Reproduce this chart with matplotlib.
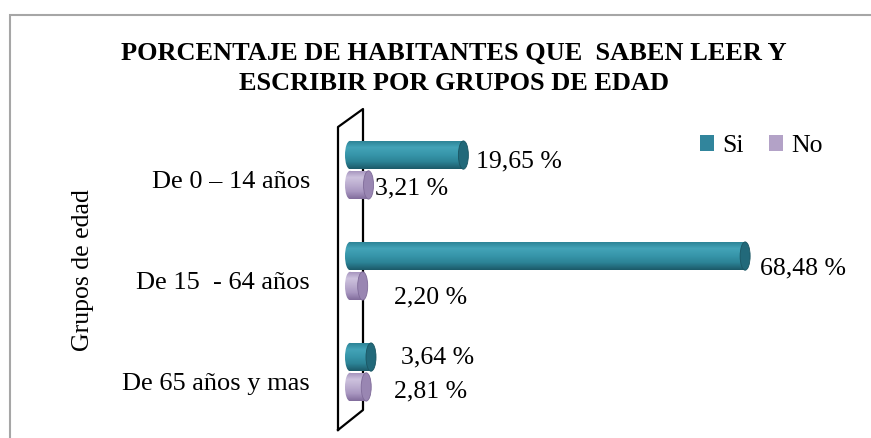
import numpy as np
import matplotlib.pyplot as plt
from matplotlib.colors import LinearSegmentedColormap
from matplotlib.patches import Rectangle, Ellipse, Patch

plt.rcParams["font.family"] = ["Liberation Serif", "DejaVu Serif"]

grupos = ["De 0 – 14 años", "De 15  - 64 años", "De 65 años y mas"]
si = [19.65, 68.48, 3.64]
no = [3.21, 2.20, 2.81]
etiquetas_si = ["19,65 %", "68,48 %", "3,64 %"]
etiquetas_no = ["3,21 %", "2,20 %", "2,81 %"]

W, H = 871, 438
fig = plt.figure(figsize=(W / 100, H / 100), dpi=100)

# axes placed in pixel terms: 0 % sits at x=350 px, 5.77 px per percent
px_per = 5.77
ax_left, ax_right = 320, 865
ax_top, ax_bot = 100, 438
ax = fig.add_axes([ax_left / W, 1 - ax_bot / H, (ax_right - ax_left) / W, (ax_bot - ax_top) / H])
ax.set_xlim((ax_left - 350) / px_per, (ax_right - 350) / px_per)
# one unit per group, 101 px apart, first group centred at y=170 px
ax.set_ylim((ax_bot - 170) / 101, (ax_top - 170) / 101)
ax.axis("off")

cap_w = 10 / px_per
bar_h = 0.28
off = 0.148

cmap_si = LinearSegmentedColormap.from_list(
    "si", ["#2a7f92", "#43a3b8", "#3796aa", "#2c8396", "#1c5a69"])
cmap_no = LinearSegmentedColormap.from_list(
    "no", ["#a290ba", "#cdc2de", "#bcaed0", "#a896c0", "#826d9c"])
grad = np.linspace(0, 1, 64).reshape(-1, 1)


def cilindro(y, v, cmap, cap_col, edge_col):
    ext = (-cap_w / 2, v, y + bar_h / 2, y - bar_h / 2)
    body = Rectangle((0, y - bar_h / 2), v, bar_h, transform=ax.transData)
    im = ax.imshow(grad, cmap=cmap, extent=ext, aspect="auto", zorder=3)
    im.set_clip_path(body)
    left = Ellipse((0, y), cap_w, bar_h, transform=ax.transData)
    im2 = ax.imshow(grad, cmap=cmap, extent=ext, aspect="auto", zorder=3)
    im2.set_clip_path(left)
    ax.add_patch(Ellipse((v, y), cap_w, bar_h, facecolor=cap_col,
                         edgecolor=edge_col, lw=0.6, zorder=4))


for i in range(len(grupos)):
    cilindro(i - off, si[i], cmap_si, "#22697a", "#1b5562")
    cilindro(i + off, no[i], cmap_no, "#9986b2", "#7f6b99")

# back wall drawn as a thin slanted panel
wx0, wx1 = (338 - 350) / px_per, (363 - 350) / px_per
wy = lambda p: (p - 170) / 101
ax.plot([wx0, wx0, wx1, wx1, wx0], [wy(430), wy(127), wy(109), wy(410), wy(430)],
        color="black", lw=1.6, zorder=2, clip_on=False)

# data labels, offsets in pixels from the bar end
off_si = [(8, -6), (10, -12), (25, 0)]
off_no = [(1, -4), (26, -12), (23, -5)]
for i in range(len(grupos)):
    ax.annotate(etiquetas_si[i], (si[i] + cap_w / 2, i - off), xytext=off_si[i],
                textcoords="offset pixels", va="center", ha="left", fontsize=18.5)
    ax.annotate(etiquetas_no[i], (no[i] + cap_w / 2, i + off), xytext=off_no[i],
                textcoords="offset pixels", va="center", ha="left", fontsize=18.5)

for i, g in enumerate(grupos):
    ax.text((310 - 350) / px_per, i + 0.12, g, ha="right", va="center", fontsize=19)

fig.text(83 / W, 1 - 270 / H, "Grupos de edad", rotation=90, ha="center", va="center", fontsize=18.5)

fig.text(454 / W, 1 - 53 / H, "PORCENTAJE DE HABITANTES QUE  SABEN LEER Y",
         ha="center", va="center", fontsize=19, fontweight="bold")
fig.text(454 / W, 1 - 84 / H, "ESCRIBIR POR GRUPOS DE EDAD",
         ha="center", va="center", fontsize=19, fontweight="bold")

handles = [Patch(facecolor="#31859c", label="Si"), Patch(facecolor="#b3a2c7", label="No")]
fig.legend(handles=handles, loc="center left", bbox_to_anchor=(700 / W, 1 - 146 / H),
           ncol=2, frameon=False, fontsize=18.5, handlelength=0.55, handleheight=0.55,
           handletextpad=0.3, columnspacing=1.0, borderpad=0, borderaxespad=0)

fig.patches.append(Rectangle((10 / W, -0.1), 1.2, 1.1 - 15 / H, transform=fig.transFigure,
                             fill=False, edgecolor="#a6a6a6", lw=1.5))

plt.savefig("out.png", dpi=100)
